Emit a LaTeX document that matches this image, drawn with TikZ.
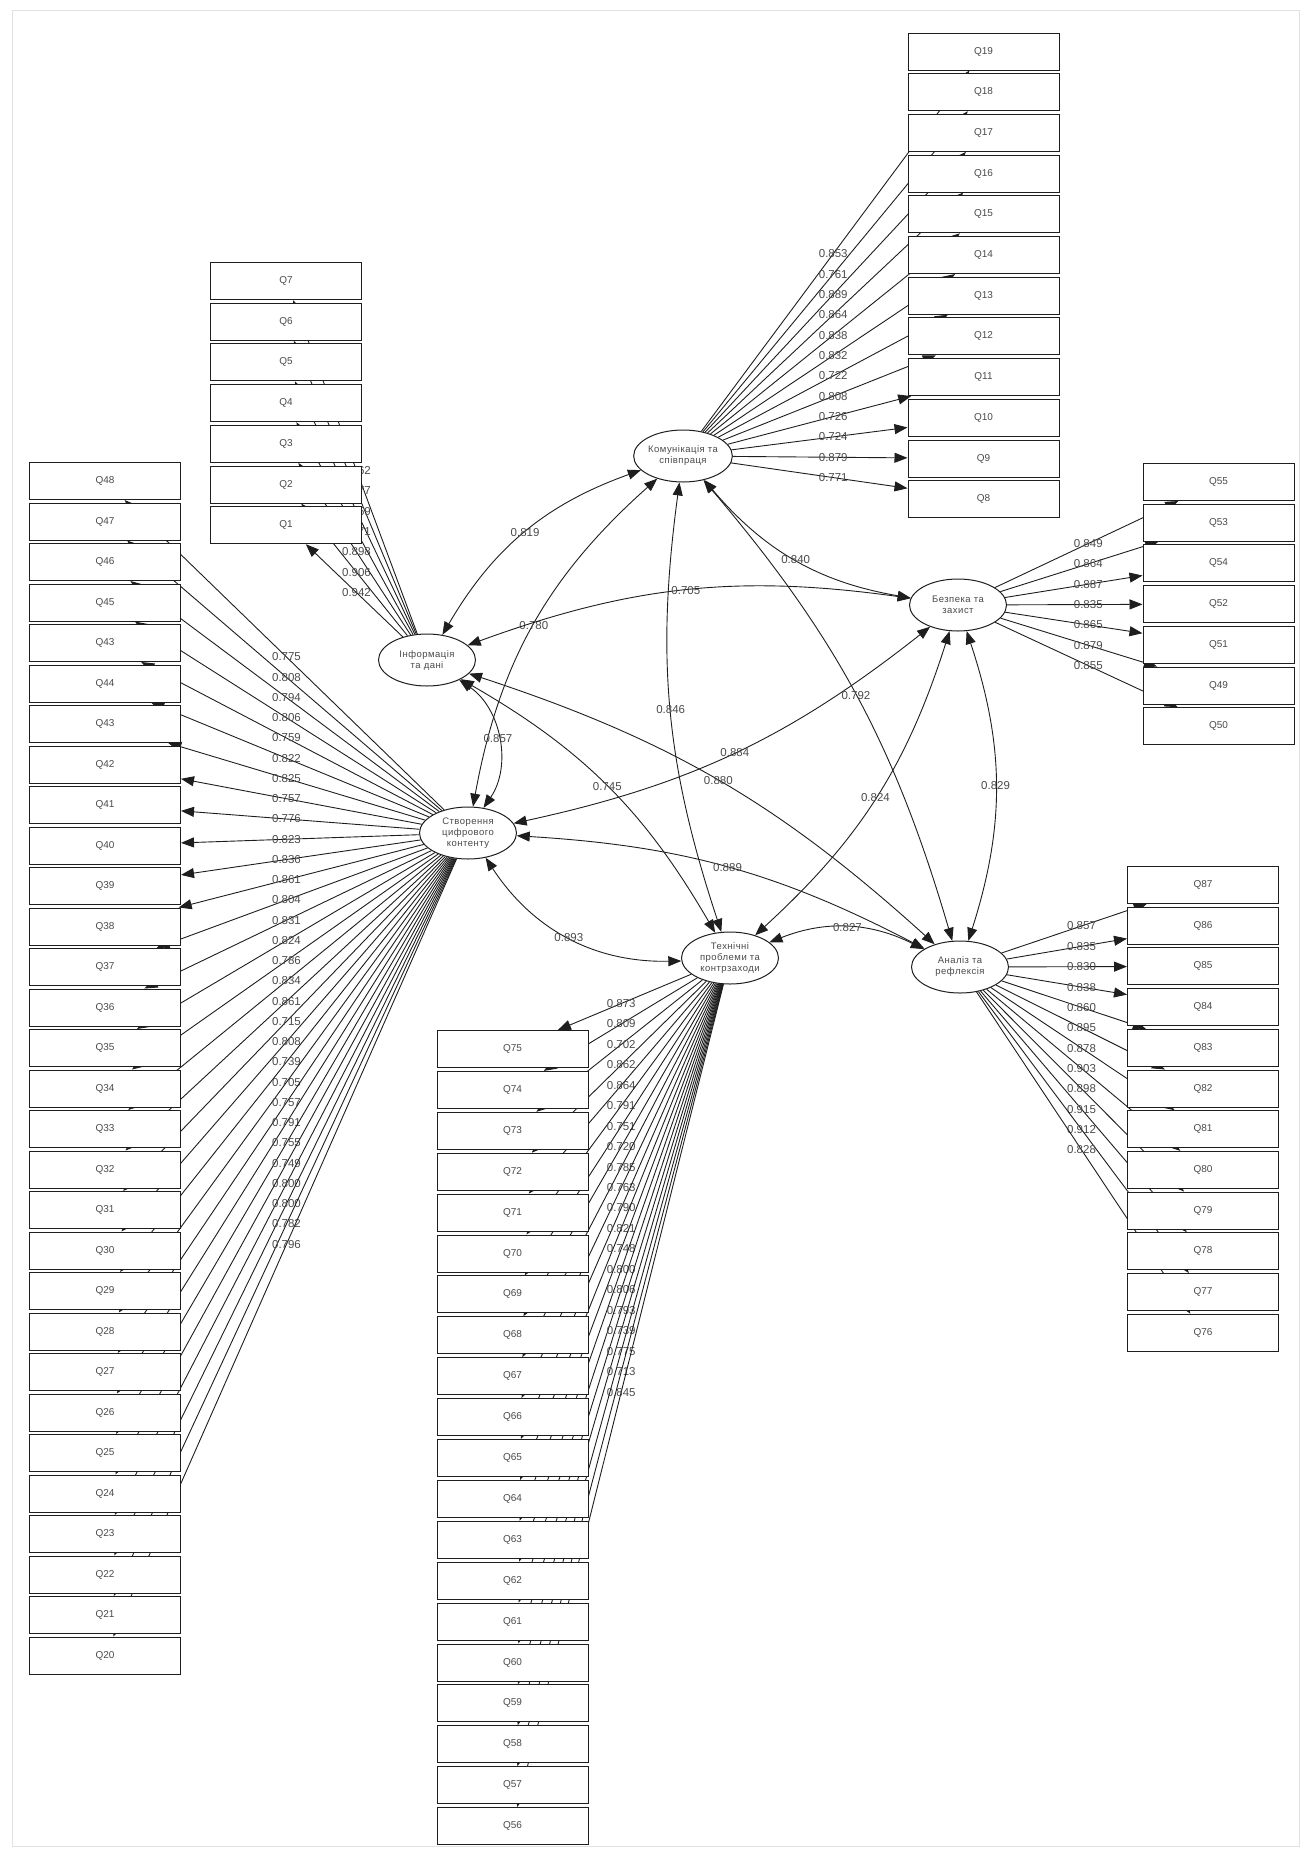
\documentclass[tikz,border=0pt]{standalone}
\usepackage{fontspec}
\setmainfont{Liberation Sans}
\usepackage{xcolor}
\usetikzlibrary{arrows.meta,calc,shapes.geometric,backgrounds}
\definecolor{pgrey}{HTML}{4A4A4A}
\definecolor{pline}{HTML}{1E1E1E}
\definecolor{pframe}{HTML}{E2E2E2}

\begin{document}
\begin{tikzpicture}[x=1pt,y=-1pt,every node/.style={font=\fontsize{10}{12}\selectfont},
  item/.style={draw=pline,line width=1pt,fill=white,minimum width=151pt,minimum height=37pt,inner sep=0pt,text=pgrey},
  factor/.style={draw=pline,line width=1pt,ellipse,fill=white,minimum width=97pt,minimum height=52pt,inner sep=0pt,align=center,text=pgrey,font=\fontsize{9.5}{11}\selectfont\addfontfeature{LetterSpace=5}},
  load/.style={pline,line width=0.9pt,-{Triangle[length=13pt,width=10pt]}},
  corr/.style={pline,line width=0.9pt,{Triangle[length=13pt,width=10pt]}-{Triangle[length=13pt,width=10pt]}},
  coef/.style={text=pgrey,inner sep=0pt,font=\fontsize{11.5}{12}\selectfont}]
  \useasboundingbox (0,0) rectangle (1311,1856);
  \draw[pframe] (12,10) rectangle (1299,1846);

  % latent variables
  \node[factor] (kom) at (683,456) {Комунікація та\\співпраця};
  \node[factor] (inf) at (427,660) {Інформація\\та дані};
  \node[factor] (stv) at (468,833) {Створення\\цифрового\\контенту};
  \node[factor] (bez) at (958,605) {Безпека та\\захист};
  \node[factor] (teh) at (730,958) {Технічні\\проблеми та\\контрзаходи};
  \node[factor] (ana) at (960,967) {Аналіз та\\рефлексія};

  % Інформація та дані
  \foreach \q/\v [count=\i from 0] in {7/0.862,6/0.877,5/0.859,4/0.871,3/0.898,2/0.906,1/0.942} {
    \node[item] (inf\i) at (286,281+\i*40.7) {Q\q};
    \begin{pgfonlayer}{background}
      \draw[load] (inf) -- (inf\i);
      \node[coef] at ($(inf)!.5!(inf\i)$) {\v};
    \end{pgfonlayer}
  }

  % Комунікація та співпраця
  \foreach \q/\v [count=\i from 0] in {19/0.853,18/0.761,17/0.889,16/0.864,15/0.838,14/0.832,
      13/0.722,12/0.808,11/0.726,10/0.724,9/0.879,8/0.771} {
    \node[item] (kom\i) at (983.5,51.5+\i*40.7) {Q\q};
    \begin{pgfonlayer}{background}
      \draw[load] (kom) -- (kom\i);
      \node[coef] at ($(kom)!.5!(kom\i)$) {\v};
    \end{pgfonlayer}
  }

  % Безпека та захист
  \foreach \q/\v [count=\i from 0] in {55/0.849,53/0.864,54/0.887,52/0.835,51/0.865,49/0.879,50/0.855} {
    \node[item] (bez\i) at (1218.5,482+\i*40.7) {Q\q};
    \begin{pgfonlayer}{background}
      \draw[load] (bez) -- (bez\i);
      \node[coef] at ($(bez)!.5!(bez\i)$) {\v};
    \end{pgfonlayer}
  }

  % Створення цифрового контенту
  \foreach \q/\v [count=\i from 0] in {48/0.775,47/0.808,46/0.794,45/0.806,43/0.759,44/0.822,43/0.825,
      42/0.757,41/0.776,40/0.823,39/0.836,38/0.861,37/0.804,36/0.831,35/0.824,34/0.786,33/0.834,
      32/0.861,31/0.715,30/0.808,29/0.739,28/0.705,27/0.757,26/0.791,25/0.755,24/0.749,23/0.800,
      22/0.800,21/0.782,20/0.796} {
    \node[item] (stv\i) at (105,481+\i*40.5) {Q\q};
    \begin{pgfonlayer}{background}
      \draw[load] (stv) -- (stv\i);
      \node[coef] at ($(stv)!.5!(stv\i)$) {\v};
    \end{pgfonlayer}
  }

  % Технічні проблеми та контрзаходи
  \foreach \q/\v [count=\i from 0] in {75/0.873,74/0.809,73/0.702,72/0.862,71/0.864,70/0.791,69/0.751,
      68/0.720,67/0.785,66/0.763,65/0.790,64/0.821,63/0.748,62/0.800,61/0.806,60/0.793,59/0.739,
      58/0.775,57/0.713,56/0.845} {
    \node[item] (teh\i) at (512.5,1049+\i*40.9) {Q\q};
    \begin{pgfonlayer}{background}
      \draw[load] (teh) -- (teh\i);
      \node[coef] at ($(teh)!.5!(teh\i)$) {\v};
    \end{pgfonlayer}
  }

  % Аналіз та рефлексія
  \foreach \q/\v [count=\i from 0] in {87/0.857,86/0.835,85/0.830,84/0.838,83/0.860,82/0.895,81/0.878,
      80/0.903,79/0.898,78/0.915,77/0.912,76/0.828} {
    \node[item] (ana\i) at (1203,885+\i*40.7) {Q\q};
    \begin{pgfonlayer}{background}
      \draw[load] (ana) -- (ana\i);
      \node[coef] at ($(ana)!.5!(ana\i)$) {\v};
    \end{pgfonlayer}
  }

  % correlations
  \begin{pgfonlayer}{background}
    \draw[corr] (inf) to[bend left=20] node[coef] {0.819} (kom);
    \draw[corr] (kom) to[bend right=19] node[coef] {0.780} (stv);
    \draw[corr] (inf) to[bend left=14] node[coef] {0.705} (bez);
    \draw[corr] (kom) to[bend right=20] node[coef] {0.840} (bez);
    \draw[corr] (kom) to[bend right=13] node[coef] {0.846} (teh);
    \draw[corr] (inf) to[bend left=45] node[coef] {0.857} (stv);
    \draw[corr] (inf) to[bend left=15] node[coef] {0.745} (teh);
    \draw[corr] (inf) to[bend left=12] node[coef] {0.880} (ana);
    \draw[corr] (stv) to[bend right=13] node[coef] {0.884} (bez);
    \draw[corr] (kom) to[bend left=12] node[coef] {0.792} (ana);
    \draw[corr] (bez) to[bend left=15] node[coef] {0.824} (teh);
    \draw[corr] (bez) to[bend left=18] node[coef] {0.829} (ana);
    \draw[corr] (stv) to[bend left=12] node[coef] {0.889} (ana);
    \draw[corr] (stv) to[bend right=29] node[coef] {0.893} (teh);
    \draw[corr] (teh) to[bend left=24] node[coef] {0.827} (ana);
  \end{pgfonlayer}
\end{tikzpicture}
\end{document}
